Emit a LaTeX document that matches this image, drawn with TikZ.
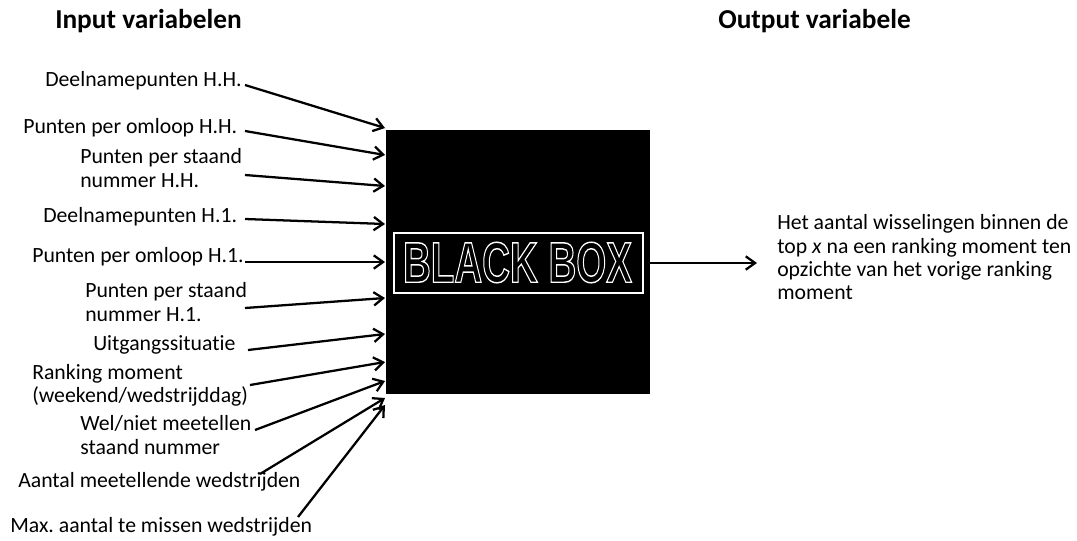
\documentclass[tikz,border=0pt]{standalone}
\usepackage{fontspec}
\setmainfont{Carlito}[Ligatures=NoCommon]
\newfontfamily\bbfont{Liberation Sans}
\usetikzlibrary{arrows.meta}
\frenchspacing
\tikzset{
  lbl/.style={anchor=west, inner sep=0pt, align=left, font=\fontsize{16.3pt}{17.5pt}\selectfont},
  ttl/.style={anchor=west, inner sep=0pt, font=\fontsize{20.5pt}{24pt}\selectfont\bfseries},
  arr/.style={line width=1.7pt, -{Straight Barb[length=7pt,width=10pt]}},
}
\newcommand\bbtext{\special{pdf:literal direct 1 Tr 1.1 w 1 1 1 RG}\scalebox{0.672}[1]{\fontsize{43pt}{43pt}\bbfont\bfseries BLACK BOX}\special{pdf:literal direct 0 Tr}}
\begin{document}
\begin{tikzpicture}[x=0.75pt,y=-0.75pt]
\useasboundingbox (0,0) rectangle (1077,540);
% titles
\node[ttl] (tin) at (55,21) {Input variabelen};
\node[ttl] (tout) at (718,21) {Output variabele};
% black box
\node[fill=black, minimum size=198pt, inner sep=0pt] (box) at (518,262) {};
\node[draw=white, line width=1.5pt, minimum width=186.75pt, minimum height=45pt, inner sep=0pt] (frame) at (518.5,263) {};
\node[text=white, inner sep=0pt] (bbt) at (517.5,262.5) {\bbtext};
% input labels
\node[lbl] (l1) at (45,81) {Deelnamepunten H.H.};
\node[lbl] (l2) at (23,128) {Punten per omloop H.H.};
\node[lbl] (l3) at (80,168) {Punten per staand\\nummer H.H.};
\node[lbl] (l4) at (43,217) {Deelnamepunten H.1.};
\node[lbl] (l5) at (32,257) {Punten per omloop H.1.};
\node[lbl] (l6) at (85,302) {Punten per staand\\nummer H.1.};
\node[lbl] (l7) at (93,345) {Uitgangssituatie};
\node[lbl] (l8) at (32,385) {Ranking moment\\(weekend/wedstrijddag)};
\node[lbl] (l9) at (80,435) {Wel/niet meetellen\\staand nummer};
\node[lbl] (l10) at (18,482) {Aantal meetellende wedstrijden};
\node[lbl] (l11) at (10,527) {Max. aantal te missen wedstrijden};
% arrow start points
\coordinate (s1) at (245,85);
\coordinate (s2) at (245,131);
\coordinate (s3) at (245,175);
\coordinate (s4) at (245,219);
\coordinate (s5) at (245,262);
\coordinate (s6) at (245,308);
\coordinate (s7) at (248,350);
\coordinate (s8) at (250,385);
\coordinate (s9) at (255,430);
\coordinate (s10) at (260,474);
\coordinate (s11) at (298,517);
% arrow tips
\coordinate (t1) at (385,128);
\coordinate (t2) at (385,155);
\coordinate (t3) at (385,186);
\coordinate (t4) at (385,224);
\coordinate (t5) at (385,262);
\coordinate (t6) at (385,298);
\coordinate (t7) at (385,334);
\coordinate (t8) at (385,362);
\coordinate (t9) at (385,381);
\coordinate (t10) at (385,398);
\coordinate (t11) at (385,405);
\foreach \i in {1,...,11}
  \draw[arr] (s\i) -- (t\i);
% output
\coordinate (ot) at (757,263);
\draw[arr] (box.east |- ot) -- (ot);
\node[lbl] (out) at (777,257.5) {Het aantal wisselingen binnen de\\top \textit{x} na een ranking moment ten\\opzichte van het vorige ranking\\moment};
\end{tikzpicture}
\end{document}
